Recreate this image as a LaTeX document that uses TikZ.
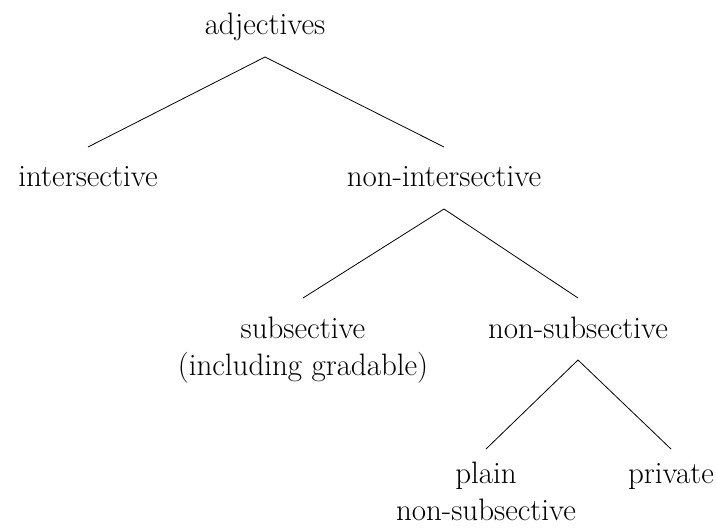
\documentclass[tikz,border=0pt]{standalone}
\usepackage{fontspec}
\usepackage{tikz}

\newcommand{\catfont}{\fontsize{31}{37}\selectfont}

\begin{document}
\begin{tikzpicture}[x=1pt, y=-1pt,
    every node/.style={font=\catfont, align=center, inner sep=0pt, anchor=base},
    branch/.style={line width=0.8pt}]
    \useasboundingbox (0,0) rectangle (717,529);

    % base anchor of a two-line node sits on its last line
    \node (adj) at (265,35) {adjectives};
    \node (int) at (88,187) {intersective};
    \node (nonint) at (444,187) {non-intersective};
    \node (sub) at (303,375) {subsective\\(including gradable)};
    \node (nonsub) at (578,338) {non-subsective};
    \node (plain) at (486,520) {plain\\non-subsective};
    \node (priv) at (671,483) {private};

    \draw[branch] ([yshift=-22pt]adj.base) -- ([yshift=40pt]int.base);
    \draw[branch] ([yshift=-22pt]adj.base) -- ([yshift=40pt]nonint.base);
    \draw[branch] ([yshift=-22pt]nonint.base) -- ([yshift=77pt]sub.base);
    \draw[branch] ([yshift=-22pt]nonint.base) -- ([yshift=40pt]nonsub.base);
    \draw[branch] ([yshift=-22pt]nonsub.base) -- ([yshift=71pt]plain.base);
    \draw[branch] ([yshift=-22pt]nonsub.base) -- ([yshift=34pt]priv.base);
\end{tikzpicture}
\end{document}
